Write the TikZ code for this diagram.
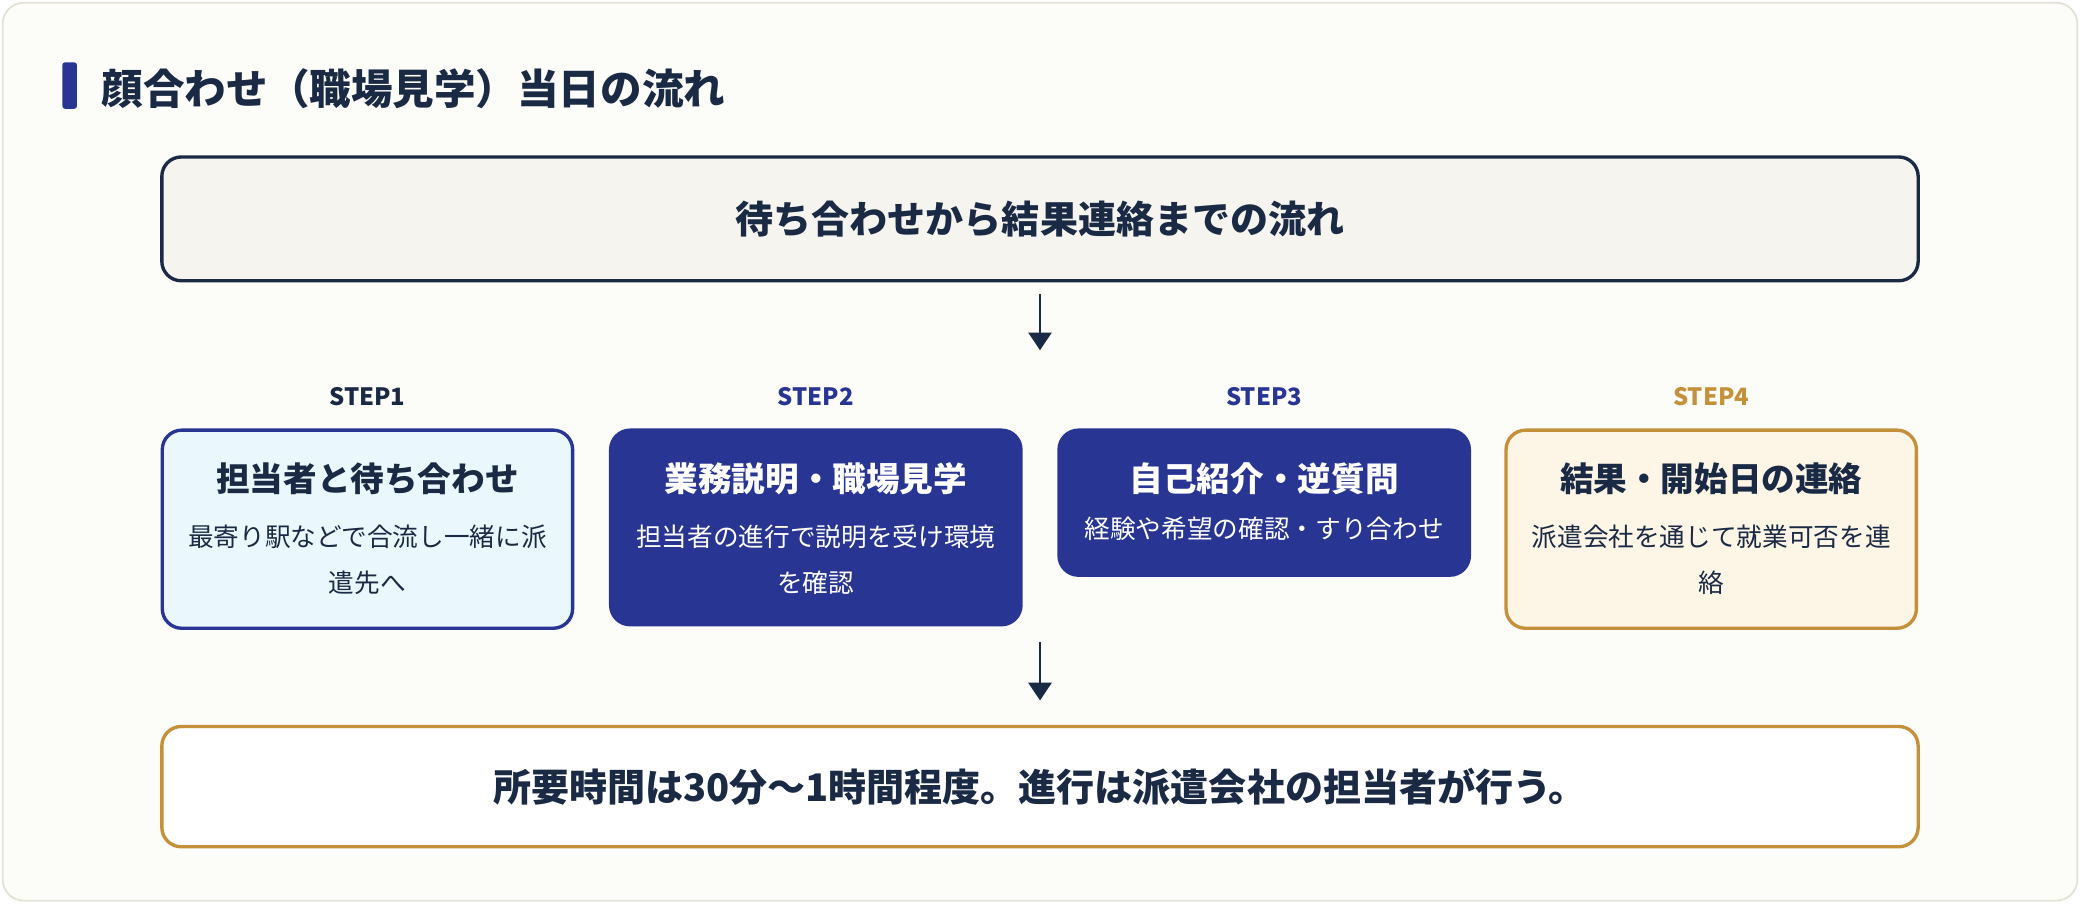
\documentclass[tikz,border=0pt]{standalone}
\usepackage{fontspec}
\setmainfont{Noto Sans CJK JP}
\usetikzlibrary{arrows.meta,positioning}
\definecolor{navy}{HTML}{283593}
\definecolor{ink}{HTML}{1B2A44}
\definecolor{gold}{HTML}{C4913A}
\definecolor{paper}{HTML}{FCFCF8}
\definecolor{frame}{HTML}{E4E2D6}
\definecolor{topfill}{HTML}{F5F4EF}
\definecolor{skyfill}{HTML}{EAF7FD}
\definecolor{creamfill}{HTML}{FDF5E6}
\tikzset{
  stepbox/.style={draw, rounded corners=11pt, line width=1.9pt, anchor=north,
    minimum width=232pt, inner sep=0pt},
  steplabel/.style={font=\fontsize{13.5}{15}\selectfont\bfseries},
  steptitle/.style={font=\fontsize{19}{22}\selectfont\bfseries},
  stepdesc/.style={font=\fontsize{14.5}{26}\selectfont, align=center},
  flow/.style={draw=ink, line width=1.6pt, -{Triangle[length=10pt,width=13pt]}}
}
\begin{document}
\begin{tikzpicture}[x=0.75pt,y=-0.75pt]
\useasboundingbox (0,0) rectangle (1568,681);
\path[fill=paper, draw=frame, line width=1pt, rounded corners=12pt] (2,2) rectangle (1566,679);

% title
\fill[navy, rounded corners=1.5pt] (47,47) rectangle (58,82);
\node[anchor=west, text=ink, font=\fontsize{23.5}{26}\selectfont\bfseries] (title) at (72,67) {顔合わせ（職場見学）当日の流れ};

% top box
\node[draw=ink, fill=topfill, line width=1.9pt, rounded corners=11pt, minimum width=993pt, minimum height=70pt,
  text=ink, font=\fontsize{21.5}{24}\selectfont\bfseries] (head) at (784,165) {待ち合わせから結果連絡までの流れ};
\coordinate (a1s) at (784,222);
\coordinate (a1e) at (784,264);
\draw[flow] (a1s) -- (a1e);

% steps
\node[steplabel, text=ink] (l1) at (277,299) {STEP1};
\node[steplabel, text=navy] (l2) at (615,299) {STEP2};
\node[steplabel, text=navy] (l3) at (953,299) {STEP3};
\node[steplabel, text=gold] (l4) at (1290,299) {STEP4};

\node[stepbox, draw=navy, fill=skyfill, minimum height=112pt] (s1) at (277,323) {};
\node[stepbox, draw=navy, fill=navy, minimum height=110pt] (s2) at (615,323) {};
\node[stepbox, draw=navy, fill=navy, minimum height=82pt] (s3) at (953,323) {};
\node[stepbox, draw=gold, fill=creamfill, minimum height=112pt] (s4) at (1290,323) {};

\node[steptitle, text=ink] (t1) at (277,361) {担当者と待ち合わせ};
\node[stepdesc, text=ink, anchor=north] (d1) at (277,391) {最寄り駅などで合流し一緒に派\\遣先へ};
\node[steptitle, text=white] (t2) at (615,361) {業務説明・職場見学};
\node[stepdesc, text=white, anchor=north] (d2) at (615,391) {担当者の進行で説明を受け環境\\を確認};
\node[steptitle, text=white] (t3) at (953,361) {自己紹介・逆質問};
\node[stepdesc, text=white, anchor=north] (d3) at (953,385) {経験や希望の確認・すり合わせ};
\node[steptitle, text=ink] (t4) at (1290,361) {結果・開始日の連絡};
\node[stepdesc, text=ink, anchor=north] (d4) at (1290,391) {派遣会社を通じて就業可否を連\\絡};

\coordinate (a2s) at (784,484);
\coordinate (a2e) at (784,528);
\draw[flow] (a2s) -- (a2e);

% bottom box
\node[draw=gold, fill=white, line width=1.9pt, rounded corners=11pt, minimum width=993pt, minimum height=68pt,
  text=ink, font=\fontsize{21.5}{24}\selectfont\bfseries] (foot) at (784,593) {所要時間は30分〜1時間程度。進行は派遣会社の担当者が行う。};
\end{tikzpicture}
\end{document}
